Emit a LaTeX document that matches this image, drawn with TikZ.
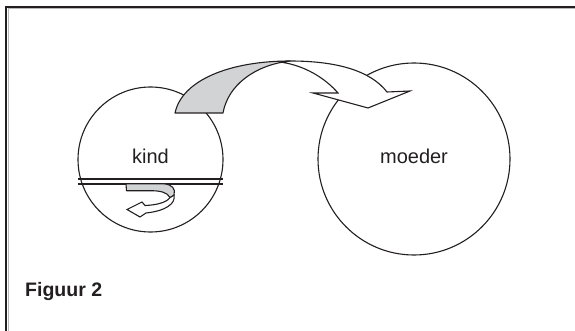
\documentclass[tikz,border=0pt]{standalone}
\usepackage{fontspec}
\setmainfont{Liberation Sans}
\definecolor{ink}{HTML}{231F20}
\definecolor{band}{HTML}{D2D3D5}
\tikzset{
  ring/.style={circle, draw=ink, line width=1.1pt, inner sep=0pt, fill=none},
  label text/.style={text=ink, inner sep=0pt, font=\fontsize{20}{24}\selectfont},
  ribbon grey/.style={draw=ink, line width=1.1pt, fill=band, line join=round},
  ribbon white/.style={draw=ink, line width=1.1pt, fill=white, line join=miter},
  rim/.style={draw=ink, line width=1.5pt},
}
\begin{document}
\begin{tikzpicture}[x=1pt, y=-1pt]
  \useasboundingbox (0,0) rectangle (575,331);
  \clip (0,0) rectangle (575,331);

  % open frame along the top and left edge
  \coordinate (fbl) at (6.3,340);
  \coordinate (ftl) at (6.3,6.9);
  \coordinate (ftr) at (585,6.9);
  \draw[ink, line width=2.3pt] (fbl) -- (ftl) -- (ftr);
  \draw[gray!55, line width=0.7pt] (8.1,340) -- (8.1,8.7) -- (585,8.7);

  % the two circles
  \node[ring, minimum size=145pt] (kind) at (150.5,159.5) {};
  \node[ring, minimum size=192pt] (moeder) at (414,159) {};

  % big twisted arrow from kind to moeder: front (white) part
  \path[ribbon white]
    (283,62.5) .. controls (288,61) and (289,61) .. (290,61)
    .. controls (335,61) and (370,70) .. (387,92)
    -- (410,91) -- (368,108) -- (313,93) -- (338,93)
    .. controls (325,78) and (305,66) .. (283,62.5) -- cycle;
  % back (grey) part
  \path[ribbon grey]
    (175,113) .. controls (182,80) and (230,61) .. (290,61)
    .. controls (255,65) and (228,85) .. (223,113) -- cycle;

  % double line through the kind circle
  \draw[rim] (78,179.2) -- (223,179.2);
  \draw[rim] (78,184.2) -- (223,184.2);

  % small turning arrow under the line: front (white) part
  \path[ribbon white]
    (174,195) .. controls (176,204) and (165,211) .. (146,213)
    -- (140,217) -- (127,209.5) -- (142,202) -- (145,205.5)
    .. controls (158,205) and (167,202) .. (170,197.5) -- cycle;
  % back (grey) part
  \path[ribbon grey]
    (126,183.8) -- (163,183.8) .. controls (172,184) and (176,189) .. (174,195)
    -- (170,197.5) .. controls (167,192) and (160,190.7) .. (150,190.7)
    -- (126.5,190.7) -- cycle;

  % texts
  \node[label text, anchor=base] (kindtext) at (150.5,163.3) {kind};
  \node[label text, anchor=base] (moedertext) at (414,163.3) {moeder};
  \node[text=ink, inner sep=0pt, anchor=base west,
        font=\fontsize{19.5}{23}\selectfont\bfseries] (caption) at (25,296.5) {Figuur 2};
\end{tikzpicture}
\end{document}
